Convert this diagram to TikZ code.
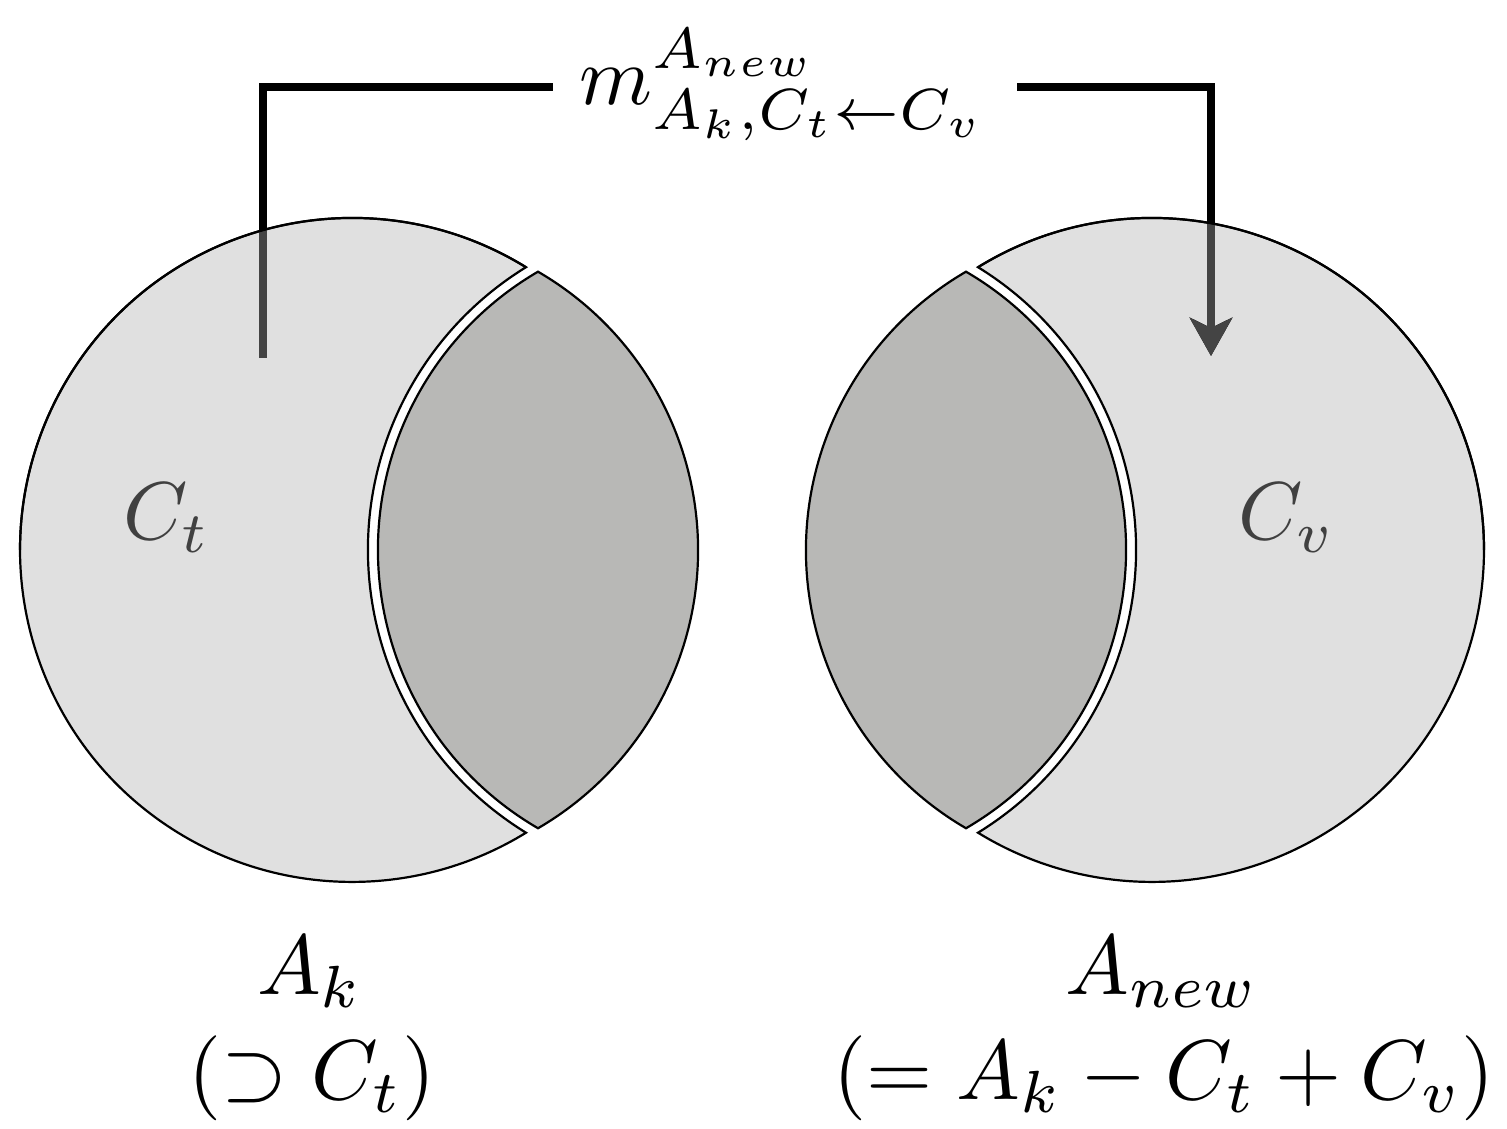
\documentclass[tikz,border=0pt]{standalone}
\usetikzlibrary{arrows.meta}
\definecolor{crescentfill}{HTML}{E0E0E0}
\definecolor{lensfill}{HTML}{B8B8B6}
\definecolor{labelgray}{HTML}{404040}
\definecolor{innerline}{HTML}{444444}
\tikzset{
  outline/.style={draw=black, line width=2.2pt},
  crescentshape/.style={outline, fill=crescentfill},
  lensshape/.style={outline, fill=lensfill},
  connector/.style={line width=7.5pt, draw=black},
  tip/.style={-{Stealth[length=38pt,width=42pt,inset=10pt]}},
  biglabel/.style={inner sep=0pt, scale=8.5},
  innerlabel/.style={inner sep=0pt, scale=8.2},
  formula/.style={inner sep=0pt, scale=8.3},
}
\begin{document}
\begin{tikzpicture}[x=1pt,y=1pt]
\useasboundingbox (0,0) rectangle (1507,1129);
% shapes (left figure, right one is its mirror)
\foreach \sh/\xs in {0/1, 1504/-1}{
  \begin{scope}[xshift=\sh pt, xscale=\xs]
    \path[crescentshape] (526,861.8) arc[start angle=58.4, end angle=301.6, radius=332]
       arc[start angle=238.4, end angle=121.6, radius=332] -- cycle;
    \path[lensshape] (538,857.3) arc[start angle=59.8, end angle=-59.8, radius=322]
       arc[start angle=239.8, end angle=120.2, radius=322] -- cycle;
  \end{scope}
}
% formula
\node[formula, anchor=base] (msg) at (783,1024) {$m^{A_{new}}_{A_k,C_t\leftarrow C_v}$};
% connector endpoints
\coordinate (L0) at (263,771);
\coordinate (L1) at (553,1042);
\coordinate (R0) at (1017,1042);
\coordinate (R1) at (1211,773);
\draw[connector] (L0) |- (L1);
\draw[connector, tip] (R0) -| (R1);
% inner grey parts of the connectors
\begin{scope}
  \clip (352,579) circle[radius=331];
  \draw[connector, draw=innerline] (L0) |- (L1);
\end{scope}
\begin{scope}
  \clip (1152,579) circle[radius=331];
  \draw[connector, draw=innerline, tip] (R0) -| (R1);
\end{scope}
% redraw outer rims over connectors
\draw[outline] (352,579) ++(58.4:332) arc[start angle=58.4, end angle=180, radius=332];
\draw[outline] (1152,579) ++(121.6:332) arc[start angle=121.6, end angle=0, radius=332];
% labels
\node[innerlabel, text=labelgray] (ct) at (167,611) {$C_t$};
\node[innerlabel, text=labelgray] (cv) at (1287,611) {$C_v$};
\node[biglabel, anchor=base] (ak) at (310,134) {$A_k$};
\node[biglabel, anchor=base] (akset) at (312,29) {$(\supset C_t)$};
\node[biglabel, anchor=base] (anew) at (1162,134) {$A_{new}$};
\node[biglabel, anchor=base] (anewset) at (1164,29) {$(= A_k - C_t + C_v)$};
\end{tikzpicture}
\end{document}
